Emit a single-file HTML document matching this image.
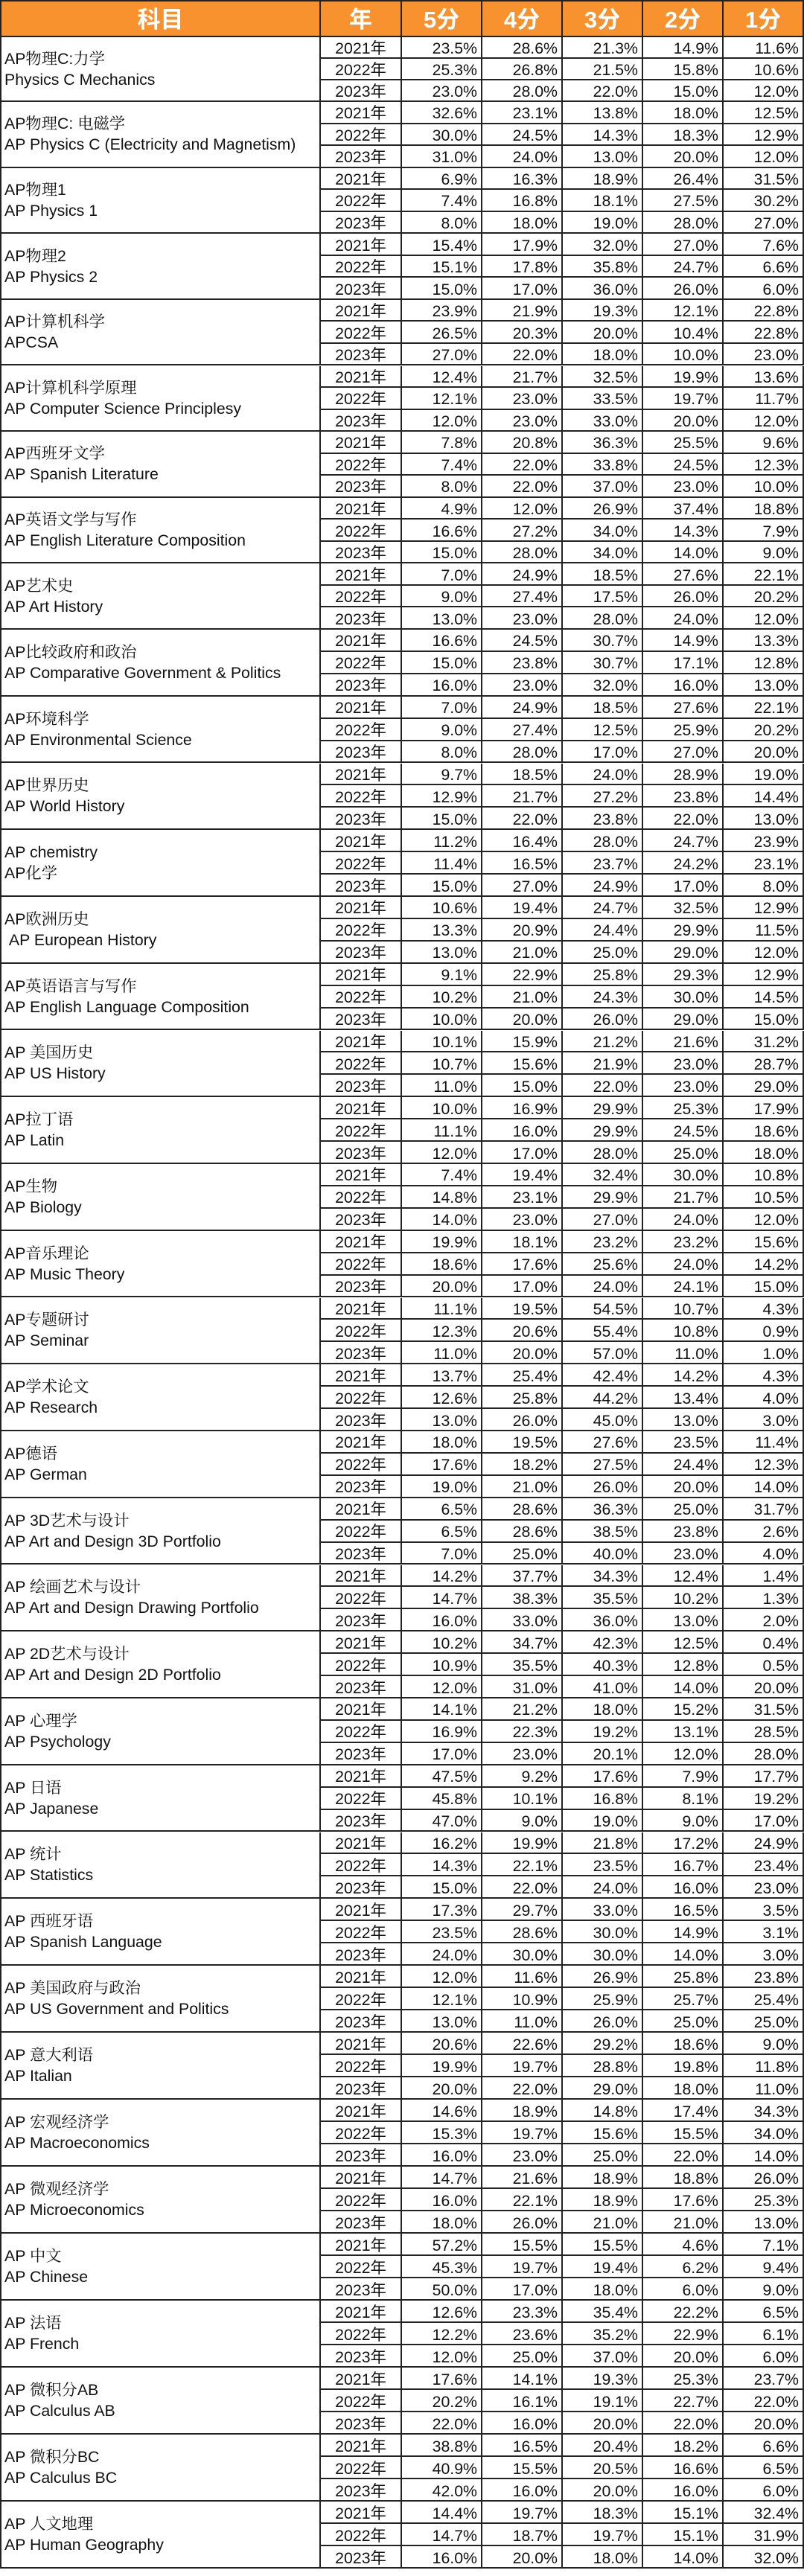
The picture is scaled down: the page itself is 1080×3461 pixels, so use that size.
<!DOCTYPE html>
<html><head><meta charset="utf-8">
<style>
*{margin:0;padding:0;box-sizing:border-box}
html,body{width:1080px;height:3461px;background:#fff;overflow:hidden}
body{position:relative;font-family:"Liberation Sans","Noto Sans CJK SC",sans-serif;color:#111;font-size:21.3px}
.g,.h{position:absolute;left:0;width:1080px;border-left:2px solid #222;display:grid;grid-template-columns:429px 109px repeat(5,108px);grid-template-rows:repeat(3,minmax(0,1fr))}
.h{top:0;height:50px;grid-template-rows:minmax(0,1fr);border-top:2px solid #222;border-bottom:2px solid #222;background:#F7922F}
.h div{display:flex;align-items:center;justify-content:center;border-right:2px solid #222;color:#fff;font-weight:bold;font-size:31px;line-height:34px;padding-top:3px;overflow:hidden}
.g div{grid-row:span 3;display:flex;align-items:center;padding-left:4px;border-right:2px solid #222;border-bottom:2px solid #222;line-height:28px;font-family:"Liberation Sans","Noto Serif CJK SC",serif;white-space:pre;overflow:hidden}
.g i{font-style:normal;display:flex;align-items:center;justify-content:flex-end;padding:3px 5px 0 0;border-right:2px solid #222;border-bottom:2px solid #222;white-space:nowrap;line-height:20px;overflow:hidden;min-height:0}
.g i:nth-child(6n+2){justify-content:center;padding-right:0}
</style></head><body>
<div class="h"><div>科目</div><div>年</div><div>5分</div><div>4分</div><div>3分</div><div>2分</div><div>1分</div></div>

<div class="g" style="top:50px;height:87px"><div>AP物理C:力学<br>Physics C Mechanics</div>
<i>2021年</i><i>23.5%</i><i>28.6%</i><i>21.3%</i><i>14.9%</i><i>11.6%</i>
<i>2022年</i><i>25.3%</i><i>26.8%</i><i>21.5%</i><i>15.8%</i><i>10.6%</i>
<i>2023年</i><i>23.0%</i><i>28.0%</i><i>22.0%</i><i>15.0%</i><i>12.0%</i></div>

<div class="g" style="top:137px;height:88.625px"><div>AP物理C: 电磁学<br>AP Physics C (Electricity and Magnetism)</div>
<i>2021年</i><i>32.6%</i><i>23.1%</i><i>13.8%</i><i>18.0%</i><i>12.5%</i>
<i>2022年</i><i>30.0%</i><i>24.5%</i><i>14.3%</i><i>18.3%</i><i>12.9%</i>
<i>2023年</i><i>31.0%</i><i>24.0%</i><i>13.0%</i><i>20.0%</i><i>12.0%</i></div>

<div class="g" style="top:225.625px;height:88.625px"><div>AP物理1<br>AP Physics 1</div>
<i>2021年</i><i>6.9%</i><i>16.3%</i><i>18.9%</i><i>26.4%</i><i>31.5%</i>
<i>2022年</i><i>7.4%</i><i>16.8%</i><i>18.1%</i><i>27.5%</i><i>30.2%</i>
<i>2023年</i><i>8.0%</i><i>18.0%</i><i>19.0%</i><i>28.0%</i><i>27.0%</i></div>

<div class="g" style="top:314.25px;height:88.625px"><div>AP物理2<br>AP Physics 2</div>
<i>2021年</i><i>15.4%</i><i>17.9%</i><i>32.0%</i><i>27.0%</i><i>7.6%</i>
<i>2022年</i><i>15.1%</i><i>17.8%</i><i>35.8%</i><i>24.7%</i><i>6.6%</i>
<i>2023年</i><i>15.0%</i><i>17.0%</i><i>36.0%</i><i>26.0%</i><i>6.0%</i></div>

<div class="g" style="top:402.875px;height:88.625px"><div>AP计算机科学<br>APCSA</div>
<i>2021年</i><i>23.9%</i><i>21.9%</i><i>19.3%</i><i>12.1%</i><i>22.8%</i>
<i>2022年</i><i>26.5%</i><i>20.3%</i><i>20.0%</i><i>10.4%</i><i>22.8%</i>
<i>2023年</i><i>27.0%</i><i>22.0%</i><i>18.0%</i><i>10.0%</i><i>23.0%</i></div>

<div class="g" style="top:491.5px;height:88.625px"><div>AP计算机科学原理<br>AP Computer Science Principlesy</div>
<i>2021年</i><i>12.4%</i><i>21.7%</i><i>32.5%</i><i>19.9%</i><i>13.6%</i>
<i>2022年</i><i>12.1%</i><i>23.0%</i><i>33.5%</i><i>19.7%</i><i>11.7%</i>
<i>2023年</i><i>12.0%</i><i>23.0%</i><i>33.0%</i><i>20.0%</i><i>12.0%</i></div>

<div class="g" style="top:580.125px;height:88.625px"><div>AP西班牙文学<br>AP Spanish Literature</div>
<i>2021年</i><i>7.8%</i><i>20.8%</i><i>36.3%</i><i>25.5%</i><i>9.6%</i>
<i>2022年</i><i>7.4%</i><i>22.0%</i><i>33.8%</i><i>24.5%</i><i>12.3%</i>
<i>2023年</i><i>8.0%</i><i>22.0%</i><i>37.0%</i><i>23.0%</i><i>10.0%</i></div>

<div class="g" style="top:668.75px;height:88.625px"><div>AP英语文学与写作<br>AP English Literature Composition</div>
<i>2021年</i><i>4.9%</i><i>12.0%</i><i>26.9%</i><i>37.4%</i><i>18.8%</i>
<i>2022年</i><i>16.6%</i><i>27.2%</i><i>34.0%</i><i>14.3%</i><i>7.9%</i>
<i>2023年</i><i>15.0%</i><i>28.0%</i><i>34.0%</i><i>14.0%</i><i>9.0%</i></div>

<div class="g" style="top:757.375px;height:88.625px"><div>AP艺术史<br>AP Art History</div>
<i>2021年</i><i>7.0%</i><i>24.9%</i><i>18.5%</i><i>27.6%</i><i>22.1%</i>
<i>2022年</i><i>9.0%</i><i>27.4%</i><i>17.5%</i><i>26.0%</i><i>20.2%</i>
<i>2023年</i><i>13.0%</i><i>23.0%</i><i>28.0%</i><i>24.0%</i><i>12.0%</i></div>

<div class="g" style="top:846px;height:89.75px"><div>AP比较政府和政治<br>AP Comparative Government &amp; Politics</div>
<i>2021年</i><i>16.6%</i><i>24.5%</i><i>30.7%</i><i>14.9%</i><i>13.3%</i>
<i>2022年</i><i>15.0%</i><i>23.8%</i><i>30.7%</i><i>17.1%</i><i>12.8%</i>
<i>2023年</i><i>16.0%</i><i>23.0%</i><i>32.0%</i><i>16.0%</i><i>13.0%</i></div>

<div class="g" style="top:935.75px;height:89.75px"><div>AP环境科学<br>AP Environmental Science</div>
<i>2021年</i><i>7.0%</i><i>24.9%</i><i>18.5%</i><i>27.6%</i><i>22.1%</i>
<i>2022年</i><i>9.0%</i><i>27.4%</i><i>12.5%</i><i>25.9%</i><i>20.2%</i>
<i>2023年</i><i>8.0%</i><i>28.0%</i><i>17.0%</i><i>27.0%</i><i>20.0%</i></div>

<div class="g" style="top:1025.5px;height:89.75px"><div>AP世界历史<br>AP World History</div>
<i>2021年</i><i>9.7%</i><i>18.5%</i><i>24.0%</i><i>28.9%</i><i>19.0%</i>
<i>2022年</i><i>12.9%</i><i>21.7%</i><i>27.2%</i><i>23.8%</i><i>14.4%</i>
<i>2023年</i><i>15.0%</i><i>22.0%</i><i>23.8%</i><i>22.0%</i><i>13.0%</i></div>

<div class="g" style="top:1115.25px;height:89.75px"><div>AP chemistry<br>AP化学</div>
<i>2021年</i><i>11.2%</i><i>16.4%</i><i>28.0%</i><i>24.7%</i><i>23.9%</i>
<i>2022年</i><i>11.4%</i><i>16.5%</i><i>23.7%</i><i>24.2%</i><i>23.1%</i>
<i>2023年</i><i>15.0%</i><i>27.0%</i><i>24.9%</i><i>17.0%</i><i>8.0%</i></div>

<div class="g" style="top:1205px;height:89.75px"><div>AP欧洲历史<br> AP European History</div>
<i>2021年</i><i>10.6%</i><i>19.4%</i><i>24.7%</i><i>32.5%</i><i>12.9%</i>
<i>2022年</i><i>13.3%</i><i>20.9%</i><i>24.4%</i><i>29.9%</i><i>11.5%</i>
<i>2023年</i><i>13.0%</i><i>21.0%</i><i>25.0%</i><i>29.0%</i><i>12.0%</i></div>

<div class="g" style="top:1294.75px;height:89.75px"><div>AP英语语言与写作<br>AP English Language Composition</div>
<i>2021年</i><i>9.1%</i><i>22.9%</i><i>25.8%</i><i>29.3%</i><i>12.9%</i>
<i>2022年</i><i>10.2%</i><i>21.0%</i><i>24.3%</i><i>30.0%</i><i>14.5%</i>
<i>2023年</i><i>10.0%</i><i>20.0%</i><i>26.0%</i><i>29.0%</i><i>15.0%</i></div>

<div class="g" style="top:1384.5px;height:89.75px"><div>AP 美国历史<br>AP US History</div>
<i>2021年</i><i>10.1%</i><i>15.9%</i><i>21.2%</i><i>21.6%</i><i>31.2%</i>
<i>2022年</i><i>10.7%</i><i>15.6%</i><i>21.9%</i><i>23.0%</i><i>28.7%</i>
<i>2023年</i><i>11.0%</i><i>15.0%</i><i>22.0%</i><i>23.0%</i><i>29.0%</i></div>

<div class="g" style="top:1474.25px;height:89.75px"><div>AP拉丁语<br>AP Latin</div>
<i>2021年</i><i>10.0%</i><i>16.9%</i><i>29.9%</i><i>25.3%</i><i>17.9%</i>
<i>2022年</i><i>11.1%</i><i>16.0%</i><i>29.9%</i><i>24.5%</i><i>18.6%</i>
<i>2023年</i><i>12.0%</i><i>17.0%</i><i>28.0%</i><i>25.0%</i><i>18.0%</i></div>

<div class="g" style="top:1564px;height:89.75px"><div>AP生物<br>AP Biology</div>
<i>2021年</i><i>7.4%</i><i>19.4%</i><i>32.4%</i><i>30.0%</i><i>10.8%</i>
<i>2022年</i><i>14.8%</i><i>23.1%</i><i>29.9%</i><i>21.7%</i><i>10.5%</i>
<i>2023年</i><i>14.0%</i><i>23.0%</i><i>27.0%</i><i>24.0%</i><i>12.0%</i></div>

<div class="g" style="top:1653.75px;height:89.75px"><div>AP音乐理论<br>AP Music Theory</div>
<i>2021年</i><i>19.9%</i><i>18.1%</i><i>23.2%</i><i>23.2%</i><i>15.6%</i>
<i>2022年</i><i>18.6%</i><i>17.6%</i><i>25.6%</i><i>24.0%</i><i>14.2%</i>
<i>2023年</i><i>20.0%</i><i>17.0%</i><i>24.0%</i><i>24.1%</i><i>15.0%</i></div>

<div class="g" style="top:1743.5px;height:89.75px"><div>AP专题研讨<br>AP Seminar</div>
<i>2021年</i><i>11.1%</i><i>19.5%</i><i>54.5%</i><i>10.7%</i><i>4.3%</i>
<i>2022年</i><i>12.3%</i><i>20.6%</i><i>55.4%</i><i>10.8%</i><i>0.9%</i>
<i>2023年</i><i>11.0%</i><i>20.0%</i><i>57.0%</i><i>11.0%</i><i>1.0%</i></div>

<div class="g" style="top:1833.25px;height:89.75px"><div>AP学术论文<br>AP Research</div>
<i>2021年</i><i>13.7%</i><i>25.4%</i><i>42.4%</i><i>14.2%</i><i>4.3%</i>
<i>2022年</i><i>12.6%</i><i>25.8%</i><i>44.2%</i><i>13.4%</i><i>4.0%</i>
<i>2023年</i><i>13.0%</i><i>26.0%</i><i>45.0%</i><i>13.0%</i><i>3.0%</i></div>

<div class="g" style="top:1923px;height:89.75px"><div>AP德语<br>AP German</div>
<i>2021年</i><i>18.0%</i><i>19.5%</i><i>27.6%</i><i>23.5%</i><i>11.4%</i>
<i>2022年</i><i>17.6%</i><i>18.2%</i><i>27.5%</i><i>24.4%</i><i>12.3%</i>
<i>2023年</i><i>19.0%</i><i>21.0%</i><i>26.0%</i><i>20.0%</i><i>14.0%</i></div>

<div class="g" style="top:2012.75px;height:89.75px"><div>AP 3D艺术与设计<br>AP Art and Design 3D Portfolio</div>
<i>2021年</i><i>6.5%</i><i>28.6%</i><i>36.3%</i><i>25.0%</i><i>31.7%</i>
<i>2022年</i><i>6.5%</i><i>28.6%</i><i>38.5%</i><i>23.8%</i><i>2.6%</i>
<i>2023年</i><i>7.0%</i><i>25.0%</i><i>40.0%</i><i>23.0%</i><i>4.0%</i></div>

<div class="g" style="top:2102.5px;height:89.75px"><div>AP 绘画艺术与设计<br>AP Art and Design Drawing Portfolio</div>
<i>2021年</i><i>14.2%</i><i>37.7%</i><i>34.3%</i><i>12.4%</i><i>1.4%</i>
<i>2022年</i><i>14.7%</i><i>38.3%</i><i>35.5%</i><i>10.2%</i><i>1.3%</i>
<i>2023年</i><i>16.0%</i><i>33.0%</i><i>36.0%</i><i>13.0%</i><i>2.0%</i></div>

<div class="g" style="top:2192.25px;height:89.75px"><div>AP 2D艺术与设计<br>AP Art and Design 2D Portfolio</div>
<i>2021年</i><i>10.2%</i><i>34.7%</i><i>42.3%</i><i>12.5%</i><i>0.4%</i>
<i>2022年</i><i>10.9%</i><i>35.5%</i><i>40.3%</i><i>12.8%</i><i>0.5%</i>
<i>2023年</i><i>12.0%</i><i>31.0%</i><i>41.0%</i><i>14.0%</i><i>20.0%</i></div>

<div class="g" style="top:2282px;height:89.75px"><div>AP 心理学<br>AP Psychology</div>
<i>2021年</i><i>14.1%</i><i>21.2%</i><i>18.0%</i><i>15.2%</i><i>31.5%</i>
<i>2022年</i><i>16.9%</i><i>22.3%</i><i>19.2%</i><i>13.1%</i><i>28.5%</i>
<i>2023年</i><i>17.0%</i><i>23.0%</i><i>20.1%</i><i>12.0%</i><i>28.0%</i></div>

<div class="g" style="top:2371.75px;height:89.75px"><div>AP 日语<br>AP Japanese</div>
<i>2021年</i><i>47.5%</i><i>9.2%</i><i>17.6%</i><i>7.9%</i><i>17.7%</i>
<i>2022年</i><i>45.8%</i><i>10.1%</i><i>16.8%</i><i>8.1%</i><i>19.2%</i>
<i>2023年</i><i>47.0%</i><i>9.0%</i><i>19.0%</i><i>9.0%</i><i>17.0%</i></div>

<div class="g" style="top:2461.5px;height:89.75px"><div>AP 统计<br>AP Statistics</div>
<i>2021年</i><i>16.2%</i><i>19.9%</i><i>21.8%</i><i>17.2%</i><i>24.9%</i>
<i>2022年</i><i>14.3%</i><i>22.1%</i><i>23.5%</i><i>16.7%</i><i>23.4%</i>
<i>2023年</i><i>15.0%</i><i>22.0%</i><i>24.0%</i><i>16.0%</i><i>23.0%</i></div>

<div class="g" style="top:2551.25px;height:89.75px"><div>AP 西班牙语<br>AP Spanish Language</div>
<i>2021年</i><i>17.3%</i><i>29.7%</i><i>33.0%</i><i>16.5%</i><i>3.5%</i>
<i>2022年</i><i>23.5%</i><i>28.6%</i><i>30.0%</i><i>14.9%</i><i>3.1%</i>
<i>2023年</i><i>24.0%</i><i>30.0%</i><i>30.0%</i><i>14.0%</i><i>3.0%</i></div>

<div class="g" style="top:2641px;height:90px"><div>AP 美国政府与政治<br>AP US Government and Politics</div>
<i>2021年</i><i>12.0%</i><i>11.6%</i><i>26.9%</i><i>25.8%</i><i>23.8%</i>
<i>2022年</i><i>12.1%</i><i>10.9%</i><i>25.9%</i><i>25.7%</i><i>25.4%</i>
<i>2023年</i><i>13.0%</i><i>11.0%</i><i>26.0%</i><i>25.0%</i><i>25.0%</i></div>

<div class="g" style="top:2731px;height:90px"><div>AP 意大利语<br>AP Italian</div>
<i>2021年</i><i>20.6%</i><i>22.6%</i><i>29.2%</i><i>18.6%</i><i>9.0%</i>
<i>2022年</i><i>19.9%</i><i>19.7%</i><i>28.8%</i><i>19.8%</i><i>11.8%</i>
<i>2023年</i><i>20.0%</i><i>22.0%</i><i>29.0%</i><i>18.0%</i><i>11.0%</i></div>

<div class="g" style="top:2821px;height:90px"><div>AP 宏观经济学<br>AP Macroeconomics</div>
<i>2021年</i><i>14.6%</i><i>18.9%</i><i>14.8%</i><i>17.4%</i><i>34.3%</i>
<i>2022年</i><i>15.3%</i><i>19.7%</i><i>15.6%</i><i>15.5%</i><i>34.0%</i>
<i>2023年</i><i>16.0%</i><i>23.0%</i><i>25.0%</i><i>22.0%</i><i>14.0%</i></div>

<div class="g" style="top:2911px;height:90px"><div>AP 微观经济学<br>AP Microeconomics</div>
<i>2021年</i><i>14.7%</i><i>21.6%</i><i>18.9%</i><i>18.8%</i><i>26.0%</i>
<i>2022年</i><i>16.0%</i><i>22.1%</i><i>18.9%</i><i>17.6%</i><i>25.3%</i>
<i>2023年</i><i>18.0%</i><i>26.0%</i><i>21.0%</i><i>21.0%</i><i>13.0%</i></div>

<div class="g" style="top:3001px;height:90px"><div>AP 中文<br>AP Chinese</div>
<i>2021年</i><i>57.2%</i><i>15.5%</i><i>15.5%</i><i>4.6%</i><i>7.1%</i>
<i>2022年</i><i>45.3%</i><i>19.7%</i><i>19.4%</i><i>6.2%</i><i>9.4%</i>
<i>2023年</i><i>50.0%</i><i>17.0%</i><i>18.0%</i><i>6.0%</i><i>9.0%</i></div>

<div class="g" style="top:3091px;height:90px"><div>AP 法语<br>AP French</div>
<i>2021年</i><i>12.6%</i><i>23.3%</i><i>35.4%</i><i>22.2%</i><i>6.5%</i>
<i>2022年</i><i>12.2%</i><i>23.6%</i><i>35.2%</i><i>22.9%</i><i>6.1%</i>
<i>2023年</i><i>12.0%</i><i>25.0%</i><i>37.0%</i><i>20.0%</i><i>6.0%</i></div>

<div class="g" style="top:3181px;height:90px"><div>AP 微积分AB<br>AP Calculus AB</div>
<i>2021年</i><i>17.6%</i><i>14.1%</i><i>19.3%</i><i>25.3%</i><i>23.7%</i>
<i>2022年</i><i>20.2%</i><i>16.1%</i><i>19.1%</i><i>22.7%</i><i>22.0%</i>
<i>2023年</i><i>22.0%</i><i>16.0%</i><i>20.0%</i><i>22.0%</i><i>20.0%</i></div>

<div class="g" style="top:3271px;height:90px"><div>AP 微积分BC<br>AP Calculus BC</div>
<i>2021年</i><i>38.8%</i><i>16.5%</i><i>20.4%</i><i>18.2%</i><i>6.6%</i>
<i>2022年</i><i>40.9%</i><i>15.5%</i><i>20.5%</i><i>16.6%</i><i>6.5%</i>
<i>2023年</i><i>42.0%</i><i>16.0%</i><i>20.0%</i><i>16.0%</i><i>6.0%</i></div>

<div class="g" style="top:3361px;height:90px"><div>AP 人文地理<br>AP Human Geography</div>
<i>2021年</i><i>14.4%</i><i>19.7%</i><i>18.3%</i><i>15.1%</i><i>32.4%</i>
<i>2022年</i><i>14.7%</i><i>18.7%</i><i>19.7%</i><i>15.1%</i><i>31.9%</i>
<i>2023年</i><i>16.0%</i><i>20.0%</i><i>18.0%</i><i>14.0%</i><i>32.0%</i></div>
</body></html>
